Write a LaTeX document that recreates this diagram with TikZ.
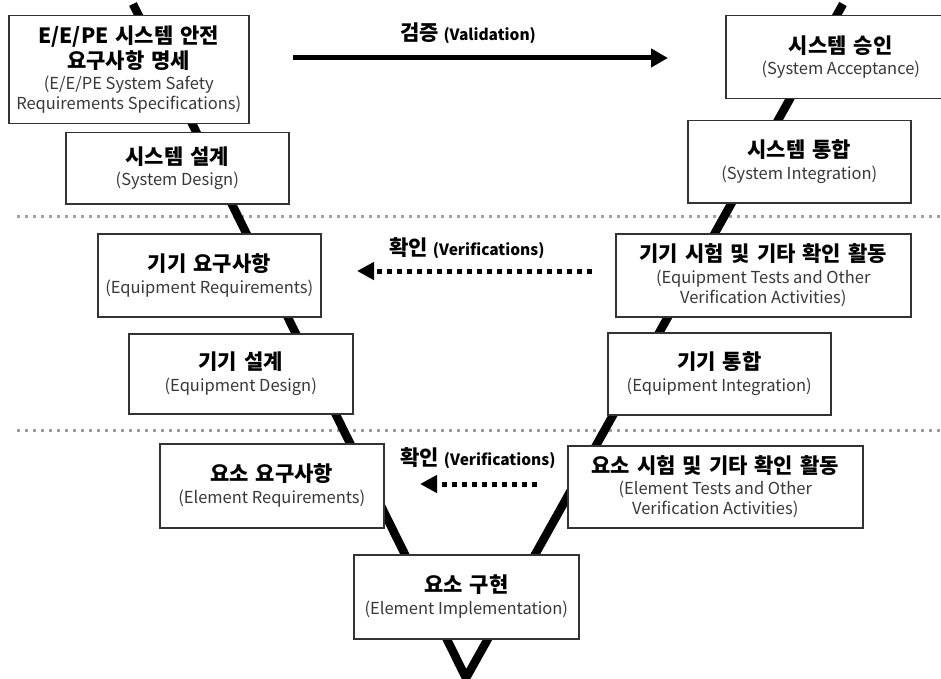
\documentclass[tikz,border=0pt]{standalone}
\usepackage{fontspec}
\setmainfont{Noto Sans CJK KR}
\usetikzlibrary{arrows.meta}

% Korean title line and English subtitle line inside a box
\newcommand\kline[1]{{\bfseries\fontsize{21}{21.6}\selectfont\spaceskip=0.33em\relax #1}}
\newcommand\eline[1]{{\color{black!78}#1}}

\begin{document}
\begin{tikzpicture}[x=1pt,y=-1pt,
  box/.style={draw=black!80, line width=1.5pt, fill=white, inner sep=0pt,
    align=center, anchor=north west, font=\fontsize{16.5}{21.6}\selectfont},
  vline/.style={line width=8.5pt, line join=miter},
  guide/.style={draw=black!38, line width=3pt, dash pattern=on 3pt off 5pt},
  solidarrow/.style={line width=5pt, -{Triangle[length=17pt,width=18pt]}},
  dotarrow/.style={line width=5pt, dash pattern=on 5pt off 5pt,
    -{Triangle[length=17pt,width=17pt]}},
  lab/.style={font=\bfseries\fontsize{21}{22}\selectfont, inner sep=0pt}
]
\useasboundingbox (0,0) rectangle (941,679);
\clip (0,0) rectangle (941,679);

% level separators
\coordinate (g1a) at (17,216);  \coordinate (g1b) at (945,216);
\coordinate (g2a) at (17,430);  \coordinate (g2b) at (945,430);
\draw[guide] (g1a) -- (g1b);
\draw[guide] (g2a) -- (g2b);

% the V
\coordinate (vtl) at (133,4);
\coordinate (vbot) at (466,678);
\coordinate (vtr) at (843,4);
\draw[vline] (vtl) -- (vbot) -- (vtr);

% left branch
\node[box, minimum width=240, minimum height=108] (srs) at (8,15)
  {\kline{E/E/PE 시스템 안전}\\[2pt]\kline{요구사항 명세}\\\eline{(E/E/PE System Safety}\\[-1.5pt]\eline{Requirements Specifications)}};
\node[box, minimum width=223, minimum height=71] (sdes) at (65,132)
  {\kline{시스템 설계}\\\eline{(System Design)}};
\node[box, minimum width=223, minimum height=83] (ereq) at (97,233)
  {\kline{기기 요구사항}\\\eline{(Equipment Requirements)}};
\node[box, minimum width=224, minimum height=80] (edes) at (128,333)
  {\kline{기기 설계}\\\eline{(Equipment Design)}};
\node[box, minimum width=224, minimum height=84] (lreq) at (159,443)
  {\kline{요소 요구사항}\\\eline{(Element Requirements)}};

% bottom
\node[box, minimum width=225, minimum height=84] (limp) at (353,554)
  {\kline{요소 구현}\\\eline{(Element Implementation)}};

% right branch
\node[box, minimum width=230, minimum height=83] (sacc) at (725,15)
  {\kline{시스템 승인}\\\eline{(System Acceptance)}};
\node[box, minimum width=223, minimum height=82] (sint) at (687,120)
  {\kline{시스템 통합}\\\eline{(System Integration)}};
\node[box, minimum width=295, minimum height=83] (etest) at (615,233)
  {\kline{기기 시험 및 기타 확인 활동}\\\eline{(Equipment Tests and Other}\\[-1.5pt]\eline{Verification Activities)}};
\node[box, minimum width=223, minimum height=82] (eint) at (607,332)
  {\kline{기기 통합}\\\eline{(Equipment Integration)}};
\node[box, minimum width=295, minimum height=82] (ltest) at (567,445)
  {\kline{요소 시험 및 기타 확인 활동}\\\eline{(Element Tests and Other}\\[-1.5pt]\eline{Verification Activities)}};

% validation
\coordinate (val1) at (293,58);
\coordinate (val2) at (668,58);
\draw[solidarrow] (val1) -- (val2);
\node[lab] (vallab) at (468,33) {검증 {\fontsize{15.5}{16}\selectfont (Validation)}};

% verification, equipment level
\coordinate (ver1a) at (592,271);
\coordinate (ver1b) at (357,271);
\draw[dotarrow] (ver1a) -- (ver1b);
\node[lab] (ver1lab) at (467,248) {확인 {\fontsize{15.5}{16}\selectfont (Verifications)}};

% verification, element level
\coordinate (ver2a) at (537,484);
\coordinate (ver2b) at (420,484);
\draw[dotarrow] (ver2a) -- (ver2b);
\node[lab] (ver2lab) at (478,458) {확인 {\fontsize{15.5}{16}\selectfont (Verifications)}};
\end{tikzpicture}
\end{document}
